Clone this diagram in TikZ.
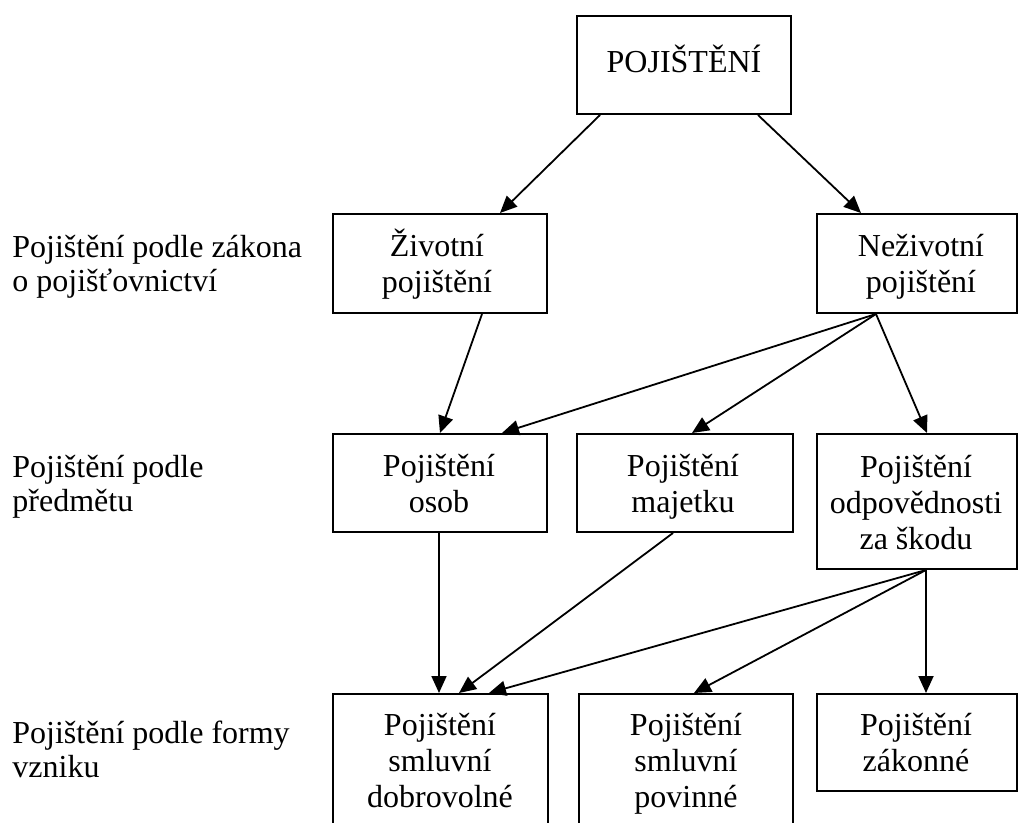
\documentclass[tikz,border=0pt]{standalone}
\usepackage{fontspec}
\setmainfont{Liberation Serif}
\usetikzlibrary{arrows.meta,calc}
\tikzset{
  box/.style={draw, line width=1pt, rectangle, inner sep=0pt, anchor=north west},
  arr/.style={line width=0.9pt, -{Triangle[length=8.5pt,width=7.5pt]}},
  btxt/.style={inner sep=0pt, anchor=base, font=\fontsize{16pt}{18pt}\selectfont},
  lbl/.style={inner sep=0pt, anchor=base west, font=\fontsize{16pt}{17pt}\selectfont},
}
\newcommand{\ctext}[1]{\parbox[t]{100pt}{\centering #1}}
\newcommand{\ltext}[1]{\parbox[t]{170pt}{\raggedright #1}}
\begin{document}
\begin{tikzpicture}[x=0.5pt,y=-0.5pt]
\useasboundingbox (0,0) rectangle (1018,823);
\clip (0,0) rectangle (1018,823);
% boxes
\node[box, minimum width=107pt, minimum height=49pt] (top) at (576,15) {};
\node[box, minimum width=107pt, minimum height=49.5pt] (zivot) at (332,213) {};
\node[box, minimum width=100pt, minimum height=49.5pt] (nezivot) at (816,213) {};
\node[box, minimum width=107pt, minimum height=49pt] (osob) at (332,433) {};
\node[box, minimum width=108pt, minimum height=49pt] (majetek) at (576,433) {};
\node[box, minimum width=100pt, minimum height=67.5pt] (odpov) at (816,433) {};
\node[box, minimum width=107.5pt, minimum height=80pt] (dobro) at (332,693) {};
\node[box, minimum width=107pt, minimum height=80pt] (povin) at (578,693) {};
\node[box, minimum width=100pt, minimum height=48.5pt] (zakon) at (816,693) {};
% box texts
\node[btxt] (t-top) at (684,73) {POJIŠTĚNÍ};
\node[btxt] (t-zivot) at (437,257) {\ctext{Životní\\pojištění}};
\node[btxt] (t-nezivot) at (921,257) {\ctext{Neživotní\\pojištění}};
\node[btxt] (t-osob) at (439,477) {\ctext{Pojištění\\osob}};
\node[btxt] (t-majetek) at (683,477) {\ctext{Pojištění\\majetku}};
\node[btxt] (t-odpov) at (916,478) {\ctext{Pojištění\\odpovědnosti\\za škodu}};
\node[btxt] (t-dobro) at (440,735) {\ctext{Pojištění\\smluvní\\dobrovolné}};
\node[btxt] (t-povin) at (686,735) {\ctext{Pojištění\\smluvní\\povinné}};
\node[btxt] (t-zakon) at (916,735) {\ctext{Pojištění\\zákonné}};
% left labels
\node[lbl] (l1) at (12,258) {\ltext{Pojištění podle zákona\\o pojišťovnictví}};
\node[lbl] (l2) at (12,478) {\ltext{Pojištění podle\\předmětu}};
\node[lbl] (l3) at (12,743) {\ltext{Pojištění podle formy\\vzniku}};
% connectors
\draw[arr] ($(top.south west)+(24,0)$) -- ($(zivot.north west)+(168,0)$);
\draw[arr] ($(top.south west)+(182,0)$) -- ($(nezivot.north west)+(45,0)$);
\draw[arr] ($(zivot.south west)+(150,0)$) -- ($(osob.north west)+(108,0)$);
\draw[arr] ($(nezivot.south west)+(60,0)$) -- ($(osob.north west)+(170,0)$);
\draw[arr] ($(nezivot.south west)+(60,0)$) -- ($(majetek.north west)+(116,0)$);
\draw[arr] ($(nezivot.south west)+(60,0)$) -- ($(odpov.north west)+(111,0)$);
\draw[arr] ($(osob.south west)+(107,0)$) -- ($(dobro.north west)+(107,0)$);
\draw[arr] ($(majetek.south west)+(97,0)$) -- ($(dobro.north west)+(127,0)$);
\draw[arr] ($(odpov.south west)+(110,0)$) -- ($(dobro.north west)+(157,0)$);
\draw[arr] ($(odpov.south west)+(110,0)$) -- ($(povin.north west)+(116,0)$);
\draw[arr] ($(odpov.south west)+(110,0)$) -- ($(zakon.north west)+(110,0)$);
\end{tikzpicture}
\end{document}
